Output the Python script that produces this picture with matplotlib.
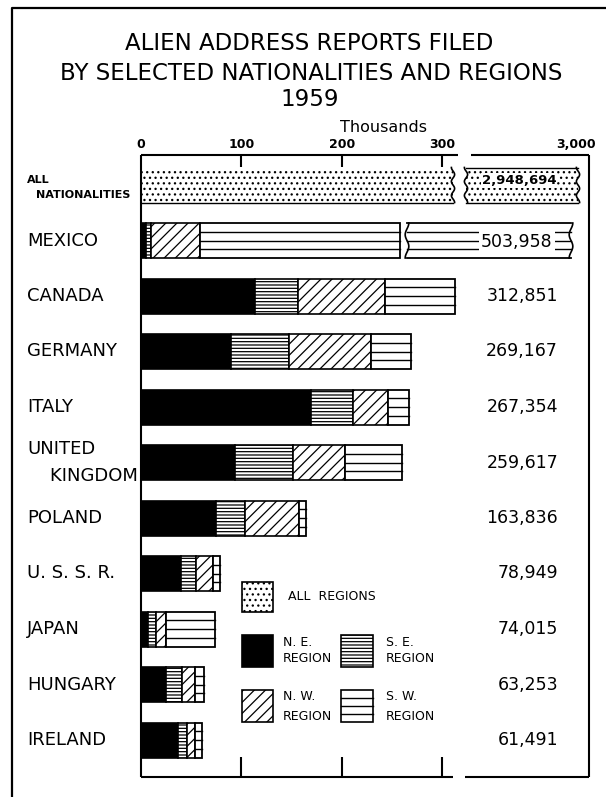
import matplotlib
matplotlib.use("Agg")
import matplotlib.pyplot as plt
import numpy as np
from matplotlib.patches import Rectangle
from matplotlib.lines import Line2D
from matplotlib.transforms import Affine2D, blended_transform_factory

# ---------------- data (thousands) ----------------
countries = ["MEXICO", "CANADA", "GERMANY", "ITALY", "UNITED\n    KINGDOM", "POLAND",
             "U. S. S. R.", "JAPAN", "HUNGARY", "IRELAND"]
total_labels = ["503,958", "312,851", "269,167", "267,354", "259,617", "163,836",
                "78,949", "74,015", "63,253", "61,491"]
ne_region = [5, 114, 90, 169, 94, 75, 40, 7, 25, 37]
se_region = [5, 42, 58, 42, 57, 29, 15, 8, 16, 9]
nw_region = [49, 87, 81, 35, 52, 53, 17, 10, 13, 8]
sw_region = [445, 70, 40, 21, 57, 7, 7, 49, 9, 7]
all_label = "2,948,694"
tick_values = [0, 100, 200, 300]
tick_labels = ["0", "100", "200", "300"]

W, H = 606, 797
fig = plt.figure(figsize=(W / 100, H / 100), dpi=100)
fig.patch.set_facecolor("white")
pix = Affine2D().scale(1 / W, -1 / H).translate(0, 1) + fig.transFigure

def T(x, y, s, **kw):
    kw.setdefault("ha", "center")
    kw.setdefault("va", "center")
    kw.setdefault("color", "black")
    return fig.text(x / W, 1 - y / H, s, **kw)

# outer frame (right/bottom cropped in the original)
fig.add_artist(Line2D([12, 12, 606], [797, 8, 8], transform=pix, color="black", lw=1.6))

# titles
T(309, 43, "ALIEN ADDRESS REPORTS FILED", fontsize=16.5)
T(311, 73, "BY SELECTED NATIONALITIES AND REGIONS", fontsize=16.5)
T(310, 99, "1959", fontsize=16.5)
T(384, 128, "Thousands", fontsize=11.5)

# ---------------- axes ----------------
K = 301 / 300.0                      # pixels per thousand
X0, X1, YT, YB = 141, 589, 155, 777
ax = fig.add_axes([X0 / W, (H - YB) / H, (X1 - X0) / W, (YB - YT) / H])
xmax = (X1 - X0) / K
ax.set_xlim(0, xmax)
row0, step = 185, 55.5
ax.set_ylim((YB - row0) / step, (YT - row0) / step)
ax.axis("off")

def d(px):  # pixel x -> data x (layout helper for the axis breaks)
    return (px - X0) / K

xt = ax.get_xaxis_transform()
lk = dict(color="black", lw=1.5, clip_on=False, solid_capstyle="butt")
# frame lines with breaks
ax.plot([0, d(458)], [1, 1], transform=xt, **lk)
ax.plot([d(471), xmax], [1, 1], transform=xt, **lk)
ax.plot([0, d(453)], [0, 0], transform=xt, **lk)
ax.plot([d(465), xmax], [0, 0], transform=xt, **lk)
ax.plot([0, 0], [0, 1], transform=xt, **lk)
ax.plot([xmax, xmax], [0, 1], transform=xt, **lk)
for v in tick_values[1:]:
    ax.plot([v, v], [1, 1 - 12 / (YB - YT)], transform=xt, **lk)
    ax.plot([v, v], [0, 20 / (YB - YT)], transform=xt, **lk)
tt = blended_transform_factory(ax.transData, pix)
for v, s in zip(tick_values, tick_labels):
    ax.text(v, 145, s, transform=tt, ha="center", va="center", fontsize=9,
            fontweight="bold", clip_on=False)
T(576, 145, "3,000", fontsize=9, fontweight="bold")

bh = 35 / step
hatch_se = "-----"
hatch_nw = "///"
hatch_all = "..."
plt.rcParams["hatch.linewidth"] = 0.9

def wavy(xc, yc, amp=1.6, n=2.5, lw=1.2):
    t = np.linspace(-bh / 2, bh / 2, 60)
    ax.plot(xc + amp * np.sin(2 * np.pi * n * t / bh), yc + t, color="black",
            lw=lw, clip_on=False)

# ALL NATIONALITIES row (broken bar)
ax.barh(0, d(453), left=0, height=bh, color="white", hatch=hatch_all,
        edgecolor="black", linewidth=0)
ax.plot([0, d(453)], [bh / 2, bh / 2], color="black", lw=1.0)
wavy(d(453), 0)
ax.barh(0, d(578) - d(466), left=d(466), height=bh, color="white", hatch=hatch_all,
        edgecolor="black", linewidth=0)
ax.plot([d(466), d(578)], [-bh / 2, -bh / 2], color="black", lw=1.0)
ax.plot([d(466), d(578)], [bh / 2, bh / 2], color="black", lw=1.0)
wavy(d(466), 0)
wavy(d(578), 0)
ax.text(d(519), -0.08, all_label, ha="center", va="center", fontsize=9.5,
        fontweight="bold", bbox=dict(facecolor="white", edgecolor="none", pad=0.6))
fig.text(27 / W, 1 - 180 / H, "ALL", fontsize=8, fontweight="bold", ha="left", va="center")
fig.text(36 / W, 1 - 195 / H, "NATIONALITIES", fontsize=8, fontweight="bold",
         ha="left", va="center")

# country rows
for i in range(len(countries)):
    y = i + 1
    limit = d(400) if i == 0 else xmax
    cum = 0
    segs = [(ne_region[i], "ne"), (se_region[i], "se"), (nw_region[i], "nw"), (sw_region[i], "sw")]
    for val, kind in segs:
        w = min(val, limit - cum)
        if kind == "ne":
            ax.barh(y, w, left=cum, height=bh, color="black", edgecolor="black", linewidth=1.2)
        elif kind == "se":
            ax.barh(y, w, left=cum, height=bh, color="white", hatch=hatch_se,
                    edgecolor="black", linewidth=1.2)
        elif kind == "nw":
            ax.barh(y, w, left=cum, height=bh, color="white", hatch=hatch_nw,
                    edgecolor="black", linewidth=1.2)
        else:
            ax.barh(y, w, left=cum, height=bh, color="white", edgecolor="black", linewidth=1.3)
            for f in (-0.25, 0, 0.25):
                ax.plot([cum, cum + w], [y + f * bh, y + f * bh], color="black", lw=1.0)
        cum += val
    if i == 0:
        # continuation piece of the broken Mexico bar
        a, b = d(407), d(571)
        ax.barh(y, b - a, left=a, height=bh, color="white", edgecolor="none")
        for f in (-0.5, 0.5):
            ax.plot([a, b], [y + f * bh, y + f * bh], color="black", lw=1.3)
        for f in (-0.25, 0, 0.25):
            ax.plot([a, b], [y + f * bh, y + f * bh], color="black", lw=1.0)
        wavy(a, y, amp=1.8, n=1.5)
        wavy(b, y, amp=1.8, n=1.5)
        ax.text(d(517), y + 0.03, total_labels[i], ha="center", va="center", fontsize=12.5,
                bbox=dict(facecolor="white", edgecolor="none", pad=1.5))
    else:
        ax.text(d(558), y, total_labels[i], ha="right", va="center", fontsize=12.5)
    ax.text(-(X0 - 27) / K, y, countries[i], ha="left", va="center", fontsize=13,
            linespacing=1.6, clip_on=False)

# ---------------- legend ----------------
def box(x, y, w, h, **kw):
    fig.add_artist(Rectangle((x, y + h), w, -h, transform=pix, edgecolor="black",
                             linewidth=1.2, **kw))

box(242, 582, 31, 30, facecolor="white", hatch=hatch_all)
T(288, 597, "ALL  REGIONS", fontsize=9, ha="left")
box(242, 635, 31, 32, facecolor="black")
T(283, 643, "N. E.", fontsize=9, ha="left")
T(283, 659, "REGION", fontsize=9, ha="left")
box(341, 635, 32, 32, facecolor="white", hatch=hatch_se)
T(386, 643, "S. E.", fontsize=9, ha="left")
T(386, 659, "REGION", fontsize=9, ha="left")
box(242, 690, 31, 32, facecolor="white", hatch=hatch_nw)
T(283, 696, "N. W.", fontsize=9, ha="left")
T(283, 716, "REGION", fontsize=9, ha="left")
box(341, 690, 32, 32, facecolor="white")
for yy in (698, 706, 714):
    fig.add_artist(Line2D([341, 373], [yy, yy], transform=pix, color="black", lw=1.0))
T(386, 696, "S. W.", fontsize=9, ha="left")
T(386, 716, "REGION", fontsize=9, ha="left")

fig.savefig("out.png", dpi=100, facecolor="white")
